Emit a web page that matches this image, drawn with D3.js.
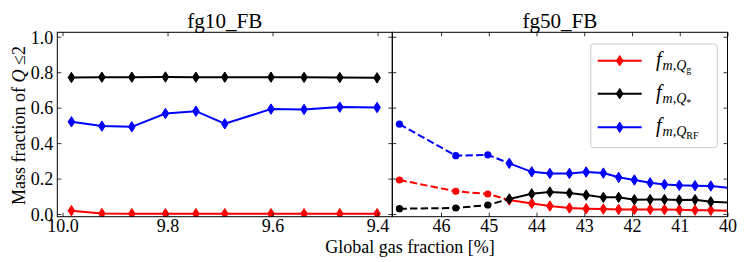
<!DOCTYPE html>
<html>
<head>
<meta charset="utf-8">
<script src="https://cdn.jsdelivr.net/npm/d3@7"></script>
<style>
  body { margin: 0; background: #fff; }
  text { font-family: "Liberation Serif", "DejaVu Serif", serif; fill: #000; }
</style>
</head>
<body>
<script>
'use strict';

// fg10_FB run (left panel)
const fg10X = [9.983, 9.925, 9.868, 9.804, 9.746, 9.691, 9.603, 9.540, 9.472, 9.401];
const fg10Gas = [0.019, 0.003, 0.002, 0.002, 0.002, 0.002, 0.002, 0.002, 0.002, 0.002];
const fg10Star = [0.770, 0.772, 0.772, 0.773, 0.772, 0.772, 0.772, 0.771, 0.770, 0.768];
const fg10RF = [0.520, 0.496, 0.492, 0.567, 0.580, 0.509, 0.592, 0.590, 0.603, 0.601];

// fg50_FB run (right panel), first points drawn dashed with circles
const fg50X = [46.87, 45.69, 45.02, 44.57, 44.10, 43.72, 43.31, 42.96, 42.60, 42.28, 41.95, 41.62, 41.32, 41.01, 40.68, 40.35, 39.75];
const fg50Gas = [0.192, 0.128, 0.113, 0.079, 0.060, 0.045, 0.034, 0.030, 0.028, 0.026, 0.026, 0.026, 0.025, 0.024, 0.022, 0.021, 0.018];
const fg50Star = [0.030, 0.034, 0.051, 0.085, 0.114, 0.124, 0.118, 0.107, 0.094, 0.094, 0.081, 0.082, 0.082, 0.079, 0.081, 0.069, 0.062];
const fg50RF = [0.507, 0.329, 0.334, 0.286, 0.238, 0.229, 0.229, 0.237, 0.231, 0.207, 0.192, 0.176, 0.167, 0.162, 0.160, 0.158, 0.142];
const fg50DashedUpTo = 3; // dashed line through this index, circles before it

const leftTicks = [10.0, 9.8, 9.6, 9.4];
const rightTicks = [46, 45, 44, 43, 42, 41, 40];
const yTicks = [0.0, 0.2, 0.4, 0.6, 0.8, 1.0];

const seriesNames = ["gas", "star", "rf"];
const seriesColors = { gas: "#ff0000", star: "#000000", rf: "#0000ff" };

(function() {
  const W = 747, H = 262;
  const plotTop = 32.3, plotBottom = 216.7;
  const fontSize = 18;

  const svg = d3.select("body").append("svg")
    .attr("width", W)
    .attr("height", H);

  const y = d3.scaleLinear().domain([-0.015, 1.025]).range([plotBottom, plotTop]);

  // thin diamond marker path
  function diamond(cx, cy) {
    const w = 3.3, h = 5.2;
    return `M${cx},${cy - h}L${cx + w},${cy}L${cx},${cy + h}L${cx - w},${cy}Z`;
  }

  function drawPanel(id, x0, x1, domain, ticks, fmt, xs, series, dashedUpTo, title) {
    const x = d3.scaleLinear().domain(domain).range([x0, x1]);
    const g = svg.append("g");

    g.append("clipPath").attr("id", "clip" + id)
      .append("rect")
      .attr("x", x0).attr("y", plotTop)
      .attr("width", x1 - x0).attr("height", plotBottom - plotTop);

    const plot = g.append("g").attr("clip-path", `url(#clip${id})`);
    const line = d3.line().x((d) => x(d[0])).y((d) => y(d[1]));

    seriesNames.forEach((name) => {
      const pts = xs.map((v, i) => [v, series[name][i]]);
      const col = seriesColors[name];
      let solidPts = pts;
      if (dashedUpTo > 0) {
        plot.append("path")
          .attr("d", line(pts.slice(0, dashedUpTo + 1)))
          .attr("fill", "none")
          .attr("stroke", col)
          .attr("stroke-width", 2)
          .attr("stroke-dasharray", "7.4,3.2");
        solidPts = pts.slice(dashedUpTo);
        plot.selectAll(null)
          .data(pts.slice(0, dashedUpTo))
          .enter()
          .append("circle")
          .attr("cx", (d) => x(d[0]))
          .attr("cy", (d) => y(d[1]))
          .attr("r", 3.6)
          .attr("fill", col);
      }
      plot.append("path")
        .attr("d", line(solidPts))
        .attr("fill", "none")
        .attr("stroke", col)
        .attr("stroke-width", 2);
      plot.selectAll(null)
        .data(solidPts)
        .enter()
        .append("path")
        .attr("d", (d) => diamond(x(d[0]), y(d[1])))
        .attr("fill", col)
        .attr("stroke", col)
        .attr("stroke-width", 1);
    });

    // inward ticks on all four sides
    const xb = g.append("g").attr("transform", `translate(0,${plotBottom})`)
      .call(d3.axisBottom(x).tickValues(ticks).tickSize(-4).tickPadding(3)
        .tickFormat(d3.format(fmt)));
    xb.selectAll("text").style("font-size", fontSize + "px");
    g.append("g").attr("transform", `translate(0,${plotTop})`)
      .call(d3.axisTop(x).tickValues(ticks).tickSize(-4).tickFormat(""));
    const yl = g.append("g").attr("transform", `translate(${x0},0)`)
      .call(d3.axisLeft(y).tickValues(yTicks).tickSize(-4).tickPadding(4)
        .tickFormat(id === 1 ? d3.format(".1f") : ""));
    yl.selectAll("text").style("font-size", fontSize + "px").attr("dy", "0.35em");
    g.append("g").attr("transform", `translate(${x1},0)`)
      .call(d3.axisRight(y).tickValues(yTicks).tickSize(-4).tickFormat(""));
    g.selectAll(".domain").remove();
    g.selectAll(".tick line").attr("stroke", "#000").attr("stroke-width", 0.8);

    g.append("rect")
      .attr("x", x0).attr("y", plotTop)
      .attr("width", x1 - x0).attr("height", plotBottom - plotTop)
      .attr("fill", "none")
      .attr("stroke", "#000")
      .attr("stroke-width", 1);

    g.append("text")
      .attr("x", (x0 + x1) / 2)
      .attr("y", 28.3)
      .attr("text-anchor", "middle")
      .attr("textLength", 75)
      .attr("lengthAdjust", "spacingAndGlyphs")
      .style("font-size", "20px")
      .text(title);

    return x;
  }

  drawPanel(1, 57.3, 392.3, [10.0099, 9.372], leftTicks, ".1f", fg10X,
    { gas: fg10Gas, star: fg10Star, rf: fg10RF }, 0, "fg10_FB");
  drawPanel(2, 392.3, 727.5, [47.02, 40], rightTicks, "d", fg50X,
    { gas: fg50Gas, star: fg50Star, rf: fg50RF }, fg50DashedUpTo, "fg50_FB");

  // axis labels
  svg.append("text")
    .attr("x", 410)
    .attr("y", 253)
    .attr("text-anchor", "middle")
    .style("font-size", fontSize + "px")
    .text("Global gas fraction [%]");

  const ylab = svg.append("text")
    .attr("transform", "translate(25,125.5)rotate(-90)")
    .attr("text-anchor", "middle")
    .style("font-size", fontSize + "px");
  ylab.append("tspan").text("Mass fraction of ");
  ylab.append("tspan").style("font-style", "italic").text("Q");
  ylab.append("tspan").text(" \u2264");
  ylab.append("tspan").text("2");

  // legend
  const legend = svg.append("g");
  legend.append("rect")
    .attr("x", 590.7).attr("y", 44)
    .attr("width", 126.6).attr("height", 103.7)
    .attr("rx", 3)
    .attr("fill", "#fff")
    .attr("fill-opacity", 0.8)
    .attr("stroke", "#cccccc")
    .attr("stroke-width", 1);

  const legendRows = [
    { name: "gas", sub: "g", y: 60.7 },
    { name: "star", sub: "*", y: 93.7 },
    { name: "rf", sub: "RF", y: 127.3 }
  ];
  legendRows.forEach((r) => {
    const col = seriesColors[r.name];
    legend.append("line")
      .attr("x1", 597.7).attr("x2", 641.7)
      .attr("y1", r.y).attr("y2", r.y)
      .attr("stroke", col)
      .attr("stroke-width", 2);
    legend.append("path")
      .attr("d", diamond(619.7, r.y))
      .attr("fill", col)
      .attr("stroke", col);
    const t = legend.append("text")
      .attr("x", 656)
      .attr("y", r.y + 5)
      .style("font-size", "20px");
    t.append("tspan").style("font-style", "italic").text("f");
    t.append("tspan").attr("dy", 4).attr("dx", 1).style("font-size", "14px").style("font-style", "italic").text("m,Q");
    t.append("tspan").attr("dy", 3).style("font-size", "10px").text(r.sub);
  });
})();
</script>
</body>
</html>
